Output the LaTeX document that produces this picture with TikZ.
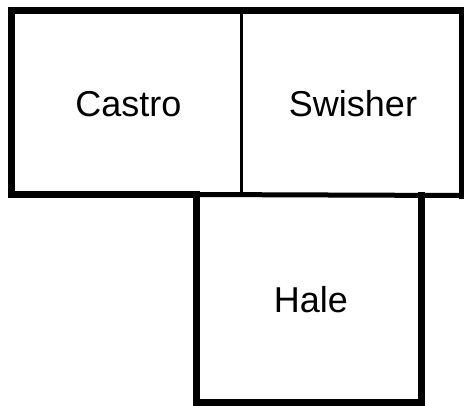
\documentclass[tikz,border=0pt]{standalone}
\usepackage{fontspec}
\setmainfont{Liberation Sans}
\begin{document}
\begin{tikzpicture}[x=1pt,y=-1pt,
  wall/.style={draw=black,line width=7pt,line join=miter,line cap=rect},
  thinwall/.style={draw=black,line width=3pt},
  midwall/.style={draw=black,line width=5pt},
  lbl/.style={font=\fontsize{36}{40}\selectfont,inner sep=0pt,anchor=center}]
\useasboundingbox (0,0) rectangle (464,405);
\fill[white] (0,0) rectangle (464,405);
% corner coordinates
\coordinate (tl) at (11.5,10.5);
\coordinate (tr) at (462,10.5);
\coordinate (br) at (462,195.5);
\coordinate (bl) at (11.5,194.5);
\coordinate (hl) at (196.5,194.5);
\coordinate (hbl) at (196.5,402);
\coordinate (hbr) at (421,402);
\coordinate (htr) at (421,195.5);
\coordinate (dt) at (241.5,10.5);
\coordinate (db) at (241.5,195);
% walls
\draw[thinwall] (dt) -- (db);
\draw[midwall] (hl) -- (br);
\draw[wall] (hl) -- (bl) -- (tl) -- (tr) -- (br);
\draw[wall] (hl) -- (hbl) -- (hbr) -- (htr);
% labels
\node[lbl] (castro) at (128.5,104) {Castro};
\node[lbl] (swisher) at (353,104) {Swisher};
\node[lbl] (hale) at (311,300) {Hale};
\end{tikzpicture}
\end{document}
